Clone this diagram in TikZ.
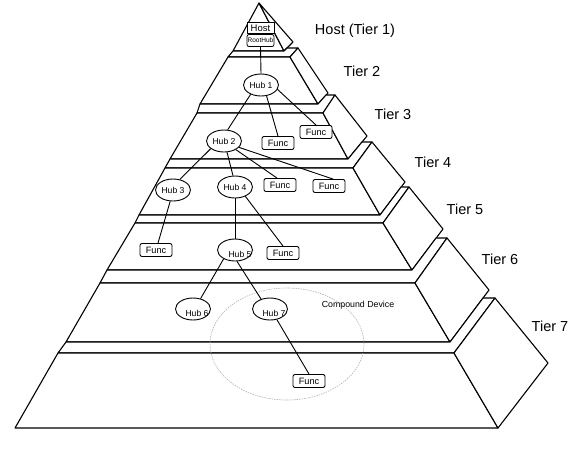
\documentclass[tikz,border=0pt]{standalone}
\usepackage{fontspec}
\setmainfont{Liberation Sans}
\usetikzlibrary{shapes.geometric}
\begin{document}
\begin{tikzpicture}[x=1pt, y=-1pt, line join=round,
  face/.style={draw=black, line width=1.1pt, fill=white},
  link/.style={draw=black, line width=0.9pt},
  hub/.style={ellipse, draw=black, line width=0.9pt, fill=white,
    minimum width=35pt, minimum height=22pt, inner sep=0pt,
    font=\fontsize{8.6}{10}\selectfont},
  hubtext/.style={font=\fontsize{8.6}{10}\selectfont, inner sep=0pt},
  func/.style={rectangle, rounded corners=2pt, draw=black, line width=0.9pt,
    fill=white, minimum width=32pt, minimum height=13pt, inner sep=0pt,
    font=\fontsize{9.2}{10}\selectfont},
  tierlabel/.style={font=\fontsize{14.5}{16}\selectfont, inner sep=0pt},
  cdlabel/.style={font=\fontsize{8.8}{10}\selectfont, inner sep=0pt},
  compound/.style={ellipse, draw=gray!60, line width=0.6pt,
    dash pattern=on 1.5pt off 1pt, minimum width=154pt,
    minimum height=112pt, inner sep=0pt}]

\useasboundingbox (0,0) rectangle (576,466);
\fill[white] (0,0) rectangle (576,466);

% ---- corner points of the stepped pyramid ----
% tier 1 (host apex)
\coordinate (A)   at (259,3);
\coordinate (BL1) at (233,51);
\coordinate (BR1) at (284,51);
\coordinate (SB1) at (293,42);
% tier 2
\coordinate (TL2) at (228,57);  \coordinate (TR2) at (290,57);
\coordinate (BL2) at (200,104); \coordinate (BR2) at (318,104);
\coordinate (ST2) at (298,48);  \coordinate (SB2) at (328,93);
\coordinate (P2)  at (287,48);
% tier 3
\coordinate (TL3) at (197,113); \coordinate (TR3) at (323,113);
\coordinate (BL3) at (170,159); \coordinate (BR3) at (348,159);
\coordinate (ST3) at (335,95);  \coordinate (SB3) at (367,136);
\coordinate (P3)  at (326,95);
% tier 4
\coordinate (TL4) at (165,168); \coordinate (TR4) at (353,168);
\coordinate (BL4) at (139,215); \coordinate (BR4) at (380,215);
\coordinate (ST4) at (372,142); \coordinate (SB4) at (405,182);
\coordinate (P4)  at (362,142);
% tier 5
\coordinate (TL5) at (135,223); \coordinate (TR5) at (383,223);
\coordinate (BL5) at (107,270); \coordinate (BR5) at (412,270);
\coordinate (ST5) at (409,187); \coordinate (SB5) at (443,229);
\coordinate (P5)  at (401,187);
% tier 6
\coordinate (TL6) at (100,283); \coordinate (TR6) at (415,283);
\coordinate (BL6) at (66,342);  \coordinate (BR6) at (450,342);
\coordinate (ST6) at (447,238); \coordinate (SB6) at (489,290);
\coordinate (P6)  at (436,238);
% tier 7
\coordinate (TL7) at (58,353);  \coordinate (TR7) at (454,353);
\coordinate (BL7) at (15,428);  \coordinate (BR7) at (498,428);
\coordinate (ST7) at (495,298); \coordinate (SB7) at (548,363);
\coordinate (P7)  at (483,298);

% ---- faces ----
\draw[face] (A) -- (BR1) -- (BL1) -- cycle;
\draw[face] (A) -- (SB1) -- (BR1) -- cycle;
\foreach \k/\j in {2/1,3/2,4/3,5/4,6/5,7/6}{
  % visible part of the tier's top surface
  \draw[face] (TL\k) -- (BL\j) -- (BR\j) -- (P\k) -- (ST\k) -- (TR\k) -- cycle;
  % front face
  \draw[face] (TL\k) -- (TR\k) -- (BR\k) -- (BL\k) -- cycle;
  % right side face
  \draw[face] (TR\k) -- (ST\k) -- (SB\k) -- (BR\k) -- cycle;
}

% ---- compound device outline ----
\node[compound] (cd) at (287,344) {};
\node[cdlabel] (cdl) at (358,305) {Compound Device};

% ---- devices ----
\node[rectangle, draw=black, line width=0.8pt, fill=white,
      minimum width=27pt, minimum height=11.5pt, inner sep=0pt,
      font=\fontsize{9.5}{10}\selectfont] (host) at (260.5,27.8) {Host};
\node[rectangle, rounded corners=2pt, draw=black, line width=0.8pt, fill=white,
      minimum width=27pt, minimum height=12pt, inner sep=0pt,
      font=\fontsize{6.5}{7}\selectfont] (root) at (260.5,40.5) {RootHub};

\node[hub] (h1) at (261,85)  {Hub 1};
\node[hub] (h2) at (224,141) {Hub 2};
\node[hub] (h3) at (173,190) {Hub 3};
\node[hub] (h4) at (235,187) {Hub 4};
\node[hub] (h5) at (235,250) {};
\node[hub] (h6) at (193,309) {};
\node[hub] (h7) at (270,309) {};

\node[func] (fA) at (316,132) {Func};
\node[func] (fB) at (278,143) {Func};
\node[func] (fC) at (280,185) {Func};
\node[func] (fD) at (329,186) {Func};
\node[func] (fE) at (156,250) {Func};
\node[func] (fF) at (283,253) {Func};
\node[func] (fG) at (309,381) {Func};

% ---- connections ----
\draw[link] (root.south) -- (h1.north);
\draw[link] (h1.-138) -- (h2.72);
\draw[link] (h1.-63) -- (fB.north);
\draw[link] (h1.-15) -- (fA.north);
\draw[link] (h2.-150) -- (h3.57);
\draw[link] (h2.-75) -- (h4.100);
\draw[link] (h2.-36) -- ([xshift=-3pt]fC.north);
\draw[link] (h2.-23) -- ([xshift=4pt]fD.north);
\draw[link] (h3.-104) -- ([xshift=2pt]fE.north);
\draw[link] (h4.south) -- (h5.north);
\draw[link] (h4.-42) -- (fF.north);
\draw[link] (h5.-142) -- (h6.54);
\draw[link] (h5.-80) -- (h7.132);
\draw[link] (h7.-57) -- (fG.north);

% hub names sitting off-centre
\node[hubtext] (h5t) at ([shift={(5pt,-4pt)}]h5.center) {Hub 5};
\node[hubtext] (h6t) at ([shift={(4pt,-4pt)}]h6.center) {Hub 6};
\node[hubtext] (h7t) at ([shift={(4pt,-4pt)}]h7.center) {Hub 7};

% ---- tier names ----
\node[tierlabel] (t1) at (355,31)  {Host (Tier 1)};
\node[tierlabel] (t2) at (362,71)  {Tier 2};
\node[tierlabel] (t3) at (393,114) {Tier 3};
\node[tierlabel] (t4) at (433,162) {Tier 4};
\node[tierlabel] (t5) at (465,209) {Tier 5};
\node[tierlabel] (t6) at (500,259) {Tier 6};
\node[tierlabel] (t7) at (550,326) {Tier 7};
\end{tikzpicture}
\end{document}
